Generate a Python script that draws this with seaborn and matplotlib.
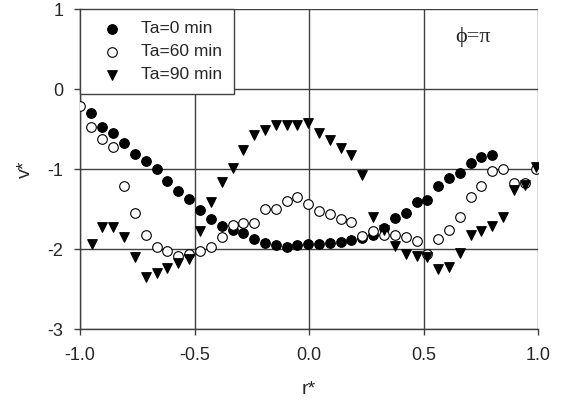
import numpy as np
import pandas as pd
import matplotlib
matplotlib.use("Agg")
import matplotlib.pyplot as plt
import seaborn as sns

# ---- data ----
x0 = [-0.952, -0.903, -0.855, -0.806, -0.760, -0.712, -0.665, -0.619, -0.571, -0.523,
      -0.476, -0.428, -0.381, -0.333, -0.287, -0.239, -0.192, -0.144, -0.097, -0.051,
      -0.003, 0.044, 0.092, 0.138, 0.185, 0.233, 0.281, 0.328, 0.376, 0.422,
      0.470, 0.517, 0.565, 0.611, 0.659, 0.706, 0.752, 0.800]
y0 = [-0.30, -0.48, -0.55, -0.67, -0.81, -0.90, -1.00, -1.15, -1.275, -1.38,
      -1.51, -1.62, -1.71, -1.76, -1.80, -1.88, -1.93, -1.95, -1.97, -1.95,
      -1.94, -1.94, -1.93, -1.91, -1.89, -1.86, -1.82, -1.74, -1.61, -1.55,
      -1.41, -1.39, -1.21, -1.11, -1.05, -0.92, -0.85, -0.83]

x60 = [-1.000, -0.952, -0.903, -0.855, -0.808, -0.760, -0.712, -0.665, -0.619, -0.571,
       -0.523, -0.476, -0.428, -0.381, -0.333, -0.287, -0.239, -0.192, -0.144, -0.097,
       -0.051, -0.003, 0.044, 0.092, 0.138, 0.185, 0.233, 0.281, 0.328, 0.376,
       0.422, 0.470, 0.517, 0.565, 0.611, 0.659, 0.706, 0.752, 0.800, 0.849,
       0.897, 0.943, 0.990]
y60 = [-0.21, -0.48, -0.62, -0.73, -1.21, -1.55, -1.82, -1.97, -2.03, -2.09,
       -2.06, -2.03, -1.97, -1.85, -1.70, -1.68, -1.68, -1.50, -1.50, -1.40,
       -1.35, -1.44, -1.53, -1.56, -1.63, -1.66, -1.84, -1.78, -1.82, -1.82,
       -1.85, -1.90, -2.06, -1.88, -1.76, -1.60, -1.35, -1.21, -1.03, -1.00,
       -1.17, -1.17, -1.00]

x90 = [-0.949, -0.903, -0.855, -0.808, -0.760, -0.712, -0.665, -0.619, -0.571, -0.523,
       -0.476, -0.428, -0.381, -0.333, -0.287, -0.239, -0.192, -0.144, -0.097, -0.051,
       -0.003, 0.044, 0.092, 0.138, 0.185, 0.233, 0.281, 0.328, 0.376, 0.422,
       0.470, 0.517, 0.565, 0.611, 0.659, 0.706, 0.752, 0.800, 0.849, 0.897,
       0.943, 0.990]
y90 = [-1.94, -1.72, -1.72, -1.85, -2.10, -2.35, -2.30, -2.24, -2.17, -2.12,
       -1.78, -1.41, -1.16, -0.99, -0.76, -0.575, -0.51, -0.45, -0.45, -0.45,
       -0.43, -0.55, -0.64, -0.74, -0.83, -1.075, -1.60, -1.76, -1.96, -2.06,
       -2.09, -2.10, -2.25, -2.23, -2.05, -1.83, -1.78, -1.71, -1.60, -1.26,
       -1.20, -0.97]

labels = ["Ta=0 min", "Ta=60 min", "Ta=90 min"]
xticks = [-1.0, -0.5, 0.0, 0.5, 1.0]
yticks = [-3, -2, -1, 0, 1]

sns.set_theme(style="white")
plt.rcParams['font.family'] = ['Liberation Sans', 'DejaVu Sans']

fig = plt.figure(figsize=(5.72, 4.08), dpi=100)
ax = fig.add_axes([80/572, 1-329/408, 458/572, 320/408])

gc = "#404040"
for v in xticks:
    ax.axvline(v, color=gc, lw=1.0, zorder=1)
for v in yticks:
    ax.axhline(v, color=gc, lw=1.0, zorder=1)

ms = 48
sns.scatterplot(x=x0, y=y0, ax=ax, marker="o", s=ms, color="black",
                edgecolor="black", linewidth=0.8, label=labels[0], zorder=3)
sns.scatterplot(x=x60, y=y60, ax=ax, marker="o", s=ms, color="white",
                edgecolor="black", linewidth=0.8, label=labels[1], zorder=4)
sns.scatterplot(x=x90, y=y90, ax=ax, marker="v", s=ms, color="black",
                edgecolor="black", linewidth=0.8, label=labels[2], zorder=5)

ax.set_xlim(-1.0, 1.0)
ax.set_ylim(-3, 1)
ax.set_xticks(xticks)
ax.set_xticklabels([f"{v:.1f}" for v in xticks])
ax.set_yticks(yticks)
ax.set_yticklabels([str(v) for v in yticks])
ax.tick_params(axis="both", labelsize=13, length=4, width=1, color=gc,
               direction="out", bottom=True, left=True)
ax.tick_params(axis="x", pad=9)
ax.tick_params(axis="y", pad=8)
for s in ax.spines.values():
    s.set_color(gc)
    s.set_linewidth(1.0)
ax.spines["top"].set_visible(False)
ax.spines["right"].set_visible(False)

ax.set_xlabel("r*", fontsize=14, labelpad=12)
ax.set_ylabel("v*", fontsize=14, labelpad=10)

ax.text(0.716, 0.65, "ϕ=π", fontsize=16, ha="center", va="center",
        family=["Liberation Serif", "DejaVu Serif"])

leg = ax.legend(loc="upper left", borderaxespad=0, fancybox=False,
                framealpha=1, edgecolor=gc, fontsize=12.5, handletextpad=0.5,
                borderpad=0.7, labelspacing=0.45, handlelength=2.3)
leg.get_frame().set_linewidth(1.0)
leg.set_zorder(10)

fig.savefig("out.png", dpi=100, facecolor="white")
